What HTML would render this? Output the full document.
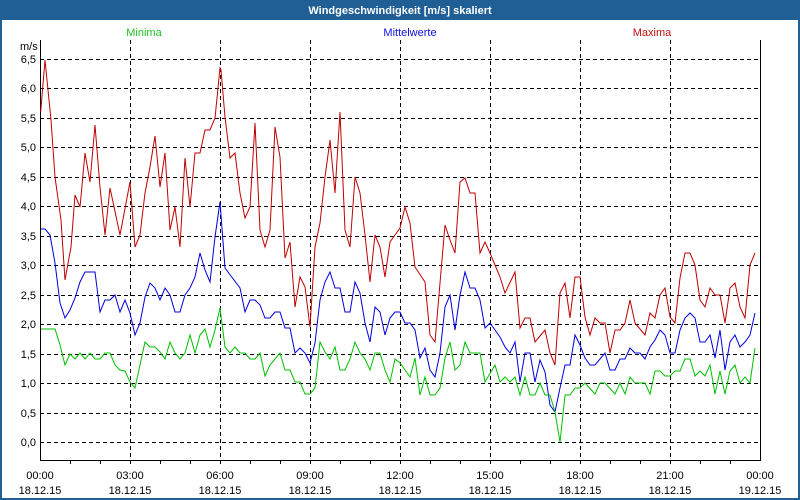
<!DOCTYPE html>
<html><head><meta charset="utf-8"><style>
html,body{margin:0;padding:0;background:#fff}
svg{display:block}
text{font-family:"Liberation Sans","DejaVu Sans",sans-serif;font-size:11px}
</style></head><body>
<svg width="800" height="500" viewBox="0 0 800 500" xmlns="http://www.w3.org/2000/svg">
<rect x="0" y="0" width="800" height="500" fill="#1f5f96"/>
<rect x="2" y="20" width="796" height="478" fill="#fff"/>
<text x="400" y="14" fill="#fff" font-weight="bold" text-anchor="middle">Windgeschwindigkeit [m/s] skaliert</text>
<text x="144" y="36" fill="#22c022" text-anchor="middle">Minima</text>
<text x="410" y="36" fill="#1010e0" text-anchor="middle">Mittelwerte</text>
<text x="652" y="36" fill="#c01010" text-anchor="middle">Maxima</text>
<text x="20" y="50" fill="#000">m/s</text>
<g stroke="#000" stroke-width="1" stroke-dasharray="4,3" fill="none">
<path d="M130.5 40V460M220.5 40V460M310.5 40V460M400.5 40V460M490.5 40V460M580.5 40V460M670.5 40V460"/>
<path d="M40 59.5H760M40 88.5H760M40 118.5H760M40 147.5H760M40 177.5H760M40 206.5H760M40 236.5H760M40 265.5H760M40 295.5H760M40 324.5H760M40 354.5H760M40 383.5H760M40 413.5H760M40 442.5H760"/>
</g>
<path d="M40.5 40V460.5H760.5V40" stroke="#000" fill="none"/>
<path d="M70.5 460v4M100.5 460v4M130.5 460v4M160.5 460v4M190.5 460v4M220.5 460v4M250.5 460v4M280.5 460v4M310.5 460v4M340.5 460v4M370.5 460v4M400.5 460v4M430.5 460v4M460.5 460v4M490.5 460v4M520.5 460v4M550.5 460v4M580.5 460v4M610.5 460v4M640.5 460v4M670.5 460v4M700.5 460v4M730.5 460v4" stroke="#000"/>
<g fill="#000" text-anchor="end">
<text x="36" y="63">6,5</text><text x="36" y="92">6,0</text><text x="36" y="122">5,5</text><text x="36" y="151">5,0</text><text x="36" y="181">4,5</text><text x="36" y="210">4,0</text><text x="36" y="240">3,5</text><text x="36" y="269">3,0</text><text x="36" y="299">2,5</text><text x="36" y="328">2,0</text><text x="36" y="358">1,5</text><text x="36" y="387">1,0</text><text x="36" y="417">0,5</text><text x="36" y="446">0,0</text>
</g>
<g fill="#000" text-anchor="middle">
<text x="40" y="479">00:00</text><text x="40" y="494">18.12.15</text>
<text x="130" y="479">03:00</text><text x="130" y="494">18.12.15</text>
<text x="220" y="479">06:00</text><text x="220" y="494">18.12.15</text>
<text x="310" y="479">09:00</text><text x="310" y="494">18.12.15</text>
<text x="400" y="479">12:00</text><text x="400" y="494">18.12.15</text>
<text x="490" y="479">15:00</text><text x="490" y="494">18.12.15</text>
<text x="580" y="479">18:00</text><text x="580" y="494">18.12.15</text>
<text x="670" y="479">21:00</text><text x="670" y="494">18.12.15</text>
<text x="760" y="479">00:00</text><text x="760" y="494">19.12.15</text>
</g>
<polyline fill="none" stroke="#c00000" stroke-width="1" points="40.7,111.7 45,60 51,120 55,177 61,220 65,280 71,247 75,195 80,207 85,153 90,182 95,125 100,187 105,235 110,188 120,235 130,182 135,247 140,235 145,193 150,167 155,136 160,187 165,153 170,230 175,207 180,247 185,158 190,207 195,153 200,153 205,130 210,130 215,118 220,68 221,70 225,117 230,158 235,153 240,193 245,218 250,207 255,123 260,230 265,247 270,230 275,127 280,157 285,258 290,242 295,307 300,277 305,287 310,327 315,247 320,223 325,177 330,140 335,193 340,112 345,230 350,247 355,177 360,193 365,235 370,282 375,235 380,247 385,277 390,242 395,235 400,228 405,207 410,223 415,267 425,282 430,335 435,342 440,283 445,225 450,240 455,253 460,182 465,178 470,193 475,193 480,253 485,242 490,253 500,277 505,293 515,272 520,328 525,318 530,318 535,342 545,330 550,353 555,365 560,293 565,283 570,318 575,277 580,277 585,317 590,335 595,318 600,323 605,323 610,353 615,330 620,330 625,323 630,300 635,323 645,335 650,313 655,318 660,295 665,288 670,317 675,323 680,278 685,253 690,253 695,265 700,300 705,307 710,288 715,295 720,295 725,323 730,288 735,283 740,307 745,318 750,265 755,253"/>
<polyline fill="none" stroke="#0000e0" stroke-width="1" points="41,229 45,229 50,235 55,263 60,303 65,318 70,310 75,298 80,282 85,272 95,272 100,312 105,300 110,300 115,295 120,312 125,300 130,313 135,335 140,323 145,297 150,283 155,288 160,300 165,288 170,295 175,312 180,312 185,295 190,288 195,277 200,253 205,270 210,282 215,237 220,202 225,268 240,288 245,312 250,300 255,300 260,305 265,318 270,318 275,312 280,312 285,328 290,328 295,353 300,348 305,353 310,363 315,343 320,300 325,282 330,272 335,288 340,288 345,312 350,312 355,282 360,293 365,323 370,342 375,307 380,312 385,335 390,318 395,312 400,312 405,323 410,323 415,330 420,358 425,348 430,370 435,377 440,353 445,307 450,295 455,330 460,295 465,272 470,288 475,288 480,300 485,328 490,323 495,330 500,337 505,347 510,353 515,342 520,382 525,353 530,353 535,382 540,360 545,372 550,405 555,412 560,388 565,365 570,365 575,335 580,345 585,358 590,365 595,365 605,353 610,370 615,370 620,359 625,359 630,348 635,353 640,353 645,359 650,347 655,340 660,330 665,335 670,353 675,353 680,330 685,318 690,313 695,318 700,342 705,342 710,335 715,358 720,330 725,370 730,342 735,335 740,347 745,342 750,335 755,313"/>
<polyline fill="none" stroke="#00c000" stroke-width="1" points="41,329 55,329 60,345 65,365 70,354 75,359 80,353 85,359 90,353 95,359 100,359 105,353 110,353 115,365 120,370 125,371 130,382 135,388 140,365 145,342 150,347 155,347 160,352 165,359 170,342 175,353 180,359 185,353 190,335 195,353 200,335 205,329 210,347 215,330 220,308 225,347 230,353 235,347 240,353 245,353 250,359 255,359 260,353 265,376 270,365 275,359 280,353 285,370 290,370 295,382 300,382 305,394 310,394 315,388 320,342 325,352 330,359 335,347 340,370 345,370 350,359 355,342 360,353 365,359 370,370 375,353 380,353 385,370 390,382 395,359 400,363 410,377 415,358 420,395 425,377 430,395 435,395 440,388 445,358 450,342 455,370 460,365 465,342 470,353 480,353 485,382 495,365 500,382 505,377 510,382 515,377 520,395 525,377 530,395 535,395 540,383 545,395 550,395 555,412 560,442 565,395 570,395 575,388 580,388 585,383 595,394 600,383 605,383 615,394 620,383 625,394 630,377 635,383 645,383 650,394 655,371 660,371 665,376 670,376 675,371 680,371 685,359 690,359 695,376 700,371 705,376 710,365 715,394 720,371 725,394 730,371 735,365 740,383 745,377 750,383 755,348"/>
</svg>
</body></html>
